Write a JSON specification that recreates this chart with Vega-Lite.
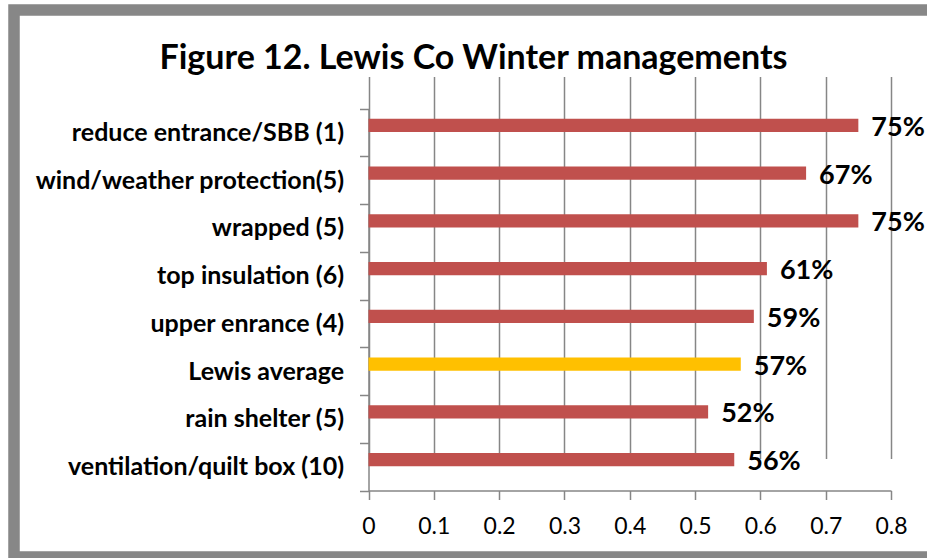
{
  "$schema": "https://vega.github.io/schema/vega-lite/v6.json",
  "width": 919,
  "height": 547,
  "autosize": {"type": "none"},
  "padding": {"left": 14, "top": 10, "right": -6, "bottom": 1},
  "background": "white",
  "config": {
    "view": {"fill": "white", "stroke": "#878787", "strokeWidth": 11.5},
    "font": "Lato"
  },
  "title": {
    "text": "Figure 12.  Lewis Co Winter managements",
    "font": "Lato",
    "fontSize": 34,
    "fontWeight": "bold",
    "color": "black",
    "anchor": "middle",
    "offset": -78
  },
  "data": {
    "values": [
      {"item": "reduce entrance/SBB (1)", "value": 0.75},
      {"item": "wind/weather protection(5)", "value": 0.67},
      {"item": "wrapped (5) ", "value": 0.75},
      {"item": "top insulation (6)", "value": 0.61},
      {"item": "upper enrance (4)", "value": 0.59},
      {"item": "Lewis average", "value": 0.57},
      {"item": "rain shelter (5)", "value": 0.52},
      {"item": "ventilation/quilt box (10)", "value": 0.56}
    ]
  },
  "layer": [
    {
      "mark": {"type": "bar", "height": 13.4, "yOffset": -7},
      "encoding": {
        "y": {
          "field": "item",
          "type": "nominal",
          "sort": null,
          "scale": {"range": [98.5, 480.5], "paddingInner": 0, "paddingOuter": 0},
          "axis": {
            "title": null,
            "orient": "left",
            "offset": -354.5,
            "grid": false,
            "domainColor": "#868686",
            "domainWidth": 1.5,
            "tickColor": "#868686",
            "tickWidth": 1.5,
            "tickSize": 9,
            "tickBand": "extent",
            "labelFont": "Lato",
            "labelFontSize": 25,
            "labelFontWeight": "bold",
            "labelColor": "black",
            "labelPadding": 16,
            "labelLimit": 500
          }
        },
        "x": {
          "field": "value",
          "type": "quantitative",
          "scale": {"domain": [0, 0.8], "range": [354.5, 877], "nice": false},
          "axis": {
            "title": null,
            "orient": "bottom",
            "offset": -66.5,
            "values": [0, 0.1, 0.2, 0.3, 0.4, 0.5, 0.6, 0.7, 0.8],
            "format": "~g",
            "grid": true,
            "gridColor": "#868686",
            "gridWidth": 1.5,
            "domainColor": "#868686",
            "domainWidth": 1.5,
            "tickColor": "#868686",
            "tickWidth": 1.5,
            "tickSize": 9,
            "labelFont": "Lato",
            "labelFontSize": 23,
            "labelColor": "black",
            "labelPadding": 16,
            "labelFlush": false,
            "labelOverlap": false
          }
        },
        "color": {
          "condition": {"test": "datum.item === 'Lewis average'", "value": "#FFC000"},
          "value": "#C0504D"
        }
      }
    },
    {
      "mark": {
        "type": "text",
        "align": "left",
        "baseline": "middle",
        "dx": 13,
        "yOffset": -4.5,
        "font": "Lato",
        "fontSize": 27,
        "fontWeight": "bold",
        "color": "black"
      },
      "encoding": {
        "y": {"field": "item", "type": "nominal", "sort": null},
        "x": {"field": "value", "type": "quantitative"},
        "text": {"field": "value", "type": "quantitative", "format": ".0%"}
      }
    }
  ]
}
